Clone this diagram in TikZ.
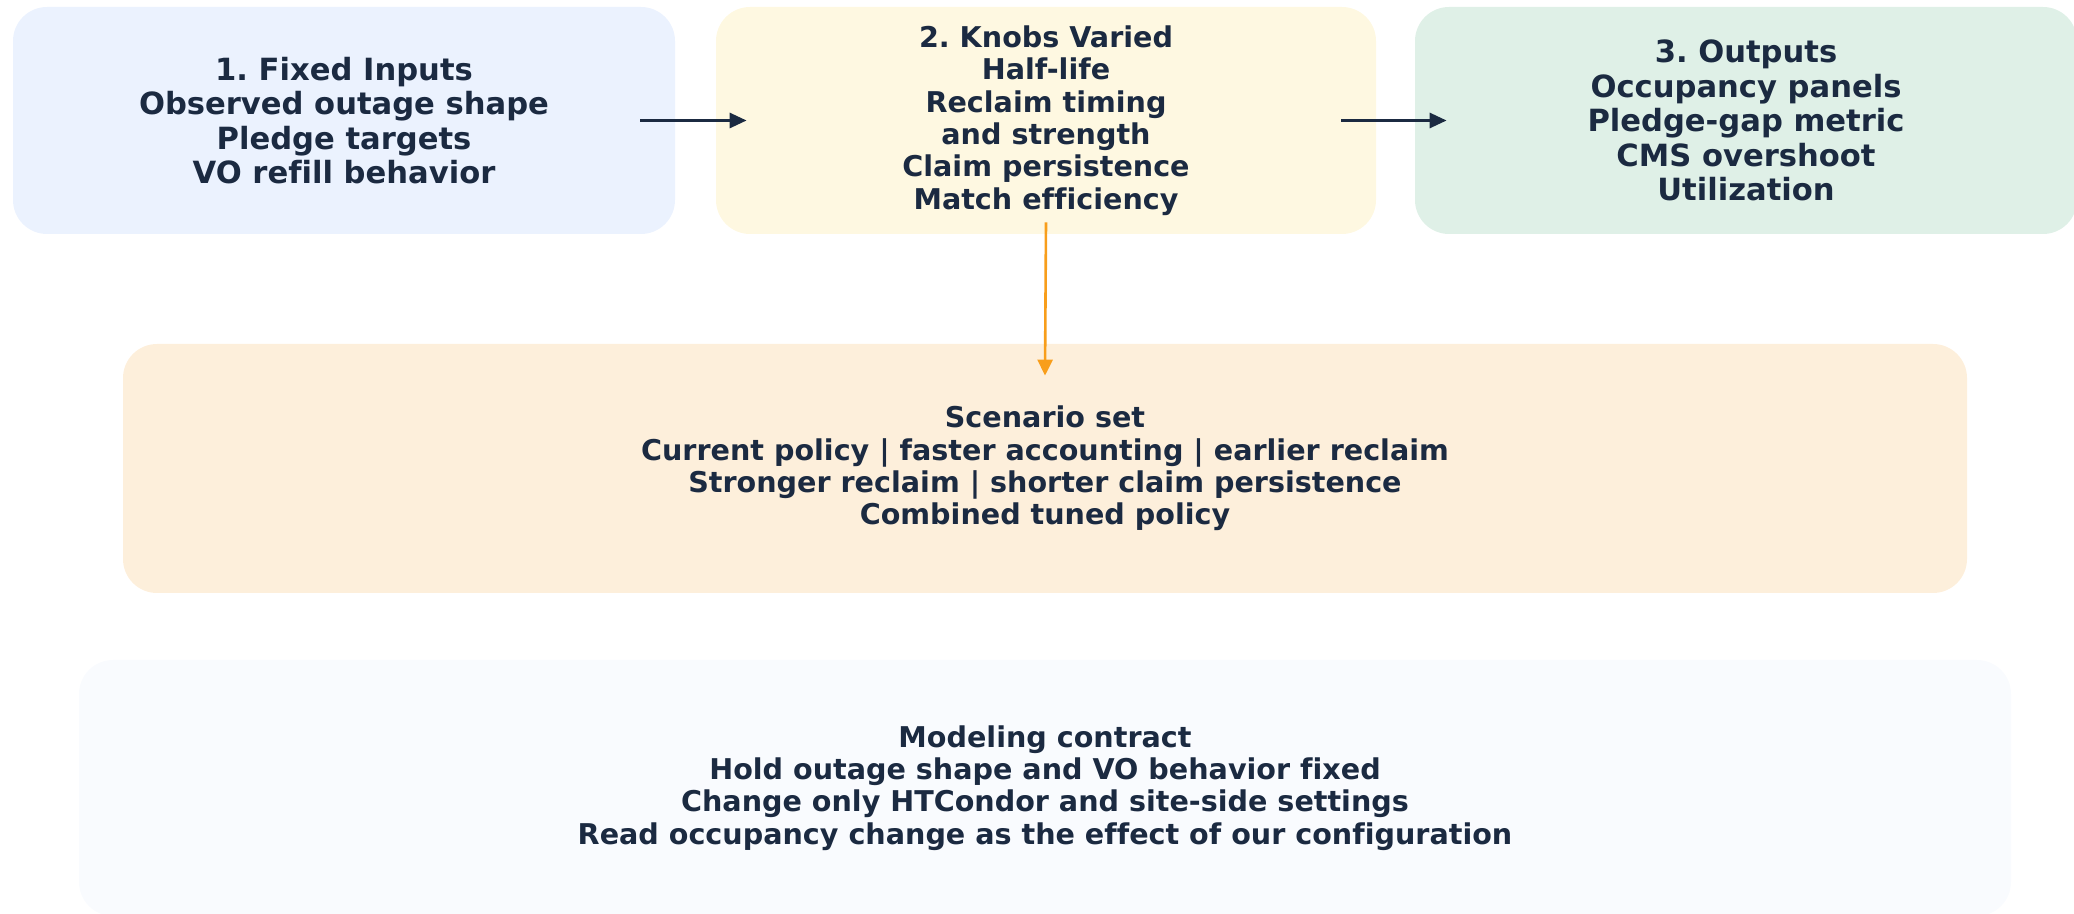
\documentclass[tikz,border=0pt]{standalone}
\usepackage{fontspec}
\setmainfont[Ligatures=NoCommon]{DejaVu Sans}
\usetikzlibrary{arrows.meta}
\frenchspacing

\definecolor{ink}{HTML}{1B2A41}
\definecolor{fillA}{HTML}{EBF2FE}
\definecolor{fillB}{HTML}{FEF8E1}
\definecolor{fillC}{HTML}{DFF0E7}
\definecolor{fillD}{HTML}{FDEFDB}
\definecolor{fillE}{HTML}{F9FBFE}
\definecolor{amber}{HTML}{F89E1B}

\tikzset{
  panel/.style={rectangle, rounded corners=17pt, draw=none, align=center,
    text=ink, font=\fontsize{14.3}{16.2}\selectfont\bfseries, inner sep=0pt},
  bigtext/.style={font=\fontsize{15.3}{17.2}\selectfont\bfseries},
  flow/.style={draw=ink, line width=1.5pt, -{Triangle[length=8.5pt,width=7.5pt]}},
  feed/.style={draw=amber, line width=1.3pt, -{Triangle[length=8pt,width=7.5pt]}}
}

\begin{document}
\begin{tikzpicture}[x=0.5pt,y=-0.5pt]
  \useasboundingbox (0,0) rectangle (2074,914);

  % top row: the three stages
  \node[panel, bigtext, fill=fillA, minimum width=331pt, minimum height=113.5pt] (inputs) at (344,120.5)
    {1. Fixed Inputs\\Observed outage shape\\Pledge targets\\VO refill behavior};
  \node[panel, fill=fillB, minimum width=330pt, minimum height=113.5pt] (knobs) at (1046,120.5)
    {2. Knobs Varied\\Half-life\\Reclaim timing\\and strength\\Claim persistence\\Match efficiency};
  \node[panel, bigtext, fill=fillC, minimum width=331pt, minimum height=113.5pt] (outputs) at (1746,120.5)
    {3. Outputs\\Occupancy panels\\Pledge-gap metric\\CMS overshoot\\Utilization};

  % scenario band
  \node[panel, fill=fillD, minimum width=922pt, minimum height=124.5pt] (scen) at (1045,468.5)
    {Scenario set\\Current policy | faster accounting | earlier reclaim\\Stronger reclaim | shorter claim persistence\\Combined tuned policy};

  % modeling contract
  \node[panel, fill=fillE, minimum width=966pt, minimum height=128pt] (contract) at (1045,788)
    {Modeling contract\\Hold outage shape and VO behavior fixed\\Change only HTCondor and site-side settings\\Read occupancy change as the effect of our configuration};

  % connectors
  \draw[flow] ([xshift=-17.5pt]inputs.east) -- ([xshift=15.5pt]knobs.west);
  \draw[flow] ([xshift=-17.5pt]knobs.east) -- ([xshift=16pt]outputs.west);
  \draw[feed] ([yshift=6pt]knobs.south) -- ([yshift=-16pt]scen.north);
\end{tikzpicture}
\end{document}
